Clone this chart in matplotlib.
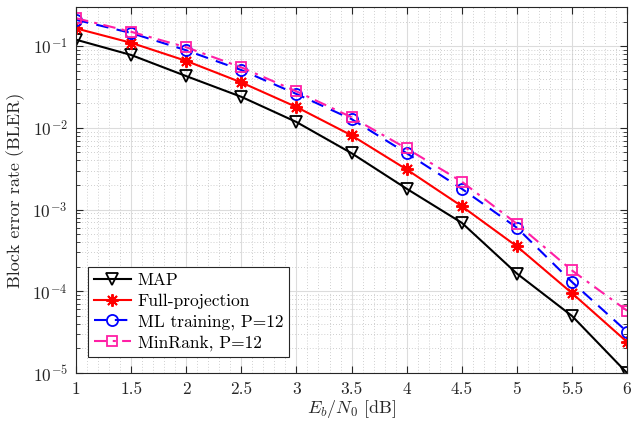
import matplotlib

matplotlib.use("Agg")

import matplotlib.pyplot as plt  # noqa: E402
import numpy as np  # noqa: E402
from matplotlib.ticker import LogLocator, MultipleLocator, NullFormatter  # noqa: E402

plt.rcParams["font.family"] = ["cmr10", "DejaVu Serif"]
plt.rcParams["mathtext.fontset"] = "cm"
plt.rcParams["axes.formatter.use_mathtext"] = True

ebn0 = [1, 1.5, 2, 2.5, 3, 3.5, 4, 4.5, 5, 5.5, 6]
bler_map = [0.12, 0.078, 0.043, 0.024, 0.0118, 0.0049, 0.0018, 6.9e-4, 1.65e-4, 5.0e-5, 1.0e-5]
bler_full = [0.165, 0.11, 0.066, 0.036, 0.018, 0.0081, 0.0031, 1.1e-3, 3.55e-4, 9.5e-5, 2.4e-5]
bler_ml = [0.21, 0.145, 0.089, 0.051, 0.026, 0.0128, 0.0049, 0.0018, 6.0e-4, 1.3e-4, 3.2e-5]
bler_minrank = [0.22, 0.15, 0.097, 0.055, 0.028, 0.0135, 0.0056, 0.0022, 6.7e-4, 1.8e-4, 5.8e-5]

MAGENTA = "#ff1fa5"
INK = "#262626"

fig = plt.figure(figsize=(6.36, 4.22), dpi=100)
ax = fig.add_axes([0.1195, 0.116, 0.8665, 0.867])

ax.semilogy(ebn0, bler_map, color="black", lw=1.5, marker="v", ms=9,
            mfc="none", mew=1.3, label="MAP")
ax.semilogy(ebn0, bler_full, color="red", lw=1.5, marker=(8, 2, 0), ms=9,
            mew=1.4, label="Full-projection")
ax.semilogy(ebn0, bler_ml, color="blue", lw=1.5, ls=(0, (6, 4)), marker="o",
            ms=8, mfc="none", mew=1.3, label="ML training, P=12")
ax.semilogy(ebn0, bler_minrank, color=MAGENTA, lw=1.5, ls=(0, (6, 3, 1.5, 3)),
            marker="s", ms=7, mfc="none", mew=1.3, label="MinRank, P=12")

ax.set_xlim(1, 6)
ax.set_ylim(1e-5, 0.3)
ax.xaxis.set_major_locator(MultipleLocator(0.5))
ax.xaxis.set_minor_locator(MultipleLocator(0.1))
ax.xaxis.set_major_formatter(matplotlib.ticker.FuncFormatter(lambda v, _: f"{v:g}"))
ax.yaxis.set_major_locator(LogLocator(base=10, numticks=10))
ax.yaxis.set_minor_locator(LogLocator(base=10, subs=np.arange(2, 10), numticks=20))
ax.yaxis.set_minor_formatter(NullFormatter())

ax.grid(True, which="major", color="#dcdcdc", lw=0.8)
ax.grid(True, which="minor", color="#c0c0c0", lw=0.6, ls=(0, (1, 2.5)))
ax.set_axisbelow(True)

ax.tick_params(which="both", direction="in", top=True, right=True, labelsize=12.5,
               colors=INK, pad=6)
ax.tick_params(which="major", length=5)
ax.tick_params(axis="y", which="minor", length=3)
ax.tick_params(axis="x", which="minor", length=0)
for s in ax.spines.values():
    s.set_color(INK)
    s.set_linewidth(0.8)

ax.set_xlabel(r"$E_b/N_0$ [dB]", fontsize=13, color=INK, labelpad=1)
ax.set_ylabel("Block error rate (BLER)", fontsize=13, color=INK, labelpad=5)

leg = ax.legend(loc="lower left", bbox_to_anchor=(0.022, 0.044), borderaxespad=0,
                fontsize=12.5, frameon=True, fancybox=False, handlelength=2.1,
                borderpad=0.35, labelspacing=0.3, handletextpad=0.4)
leg.get_frame().set_edgecolor(INK)
leg.get_frame().set_linewidth(0.8)
leg.get_frame().set_alpha(1)

fig.savefig("out.png", facecolor="white")
